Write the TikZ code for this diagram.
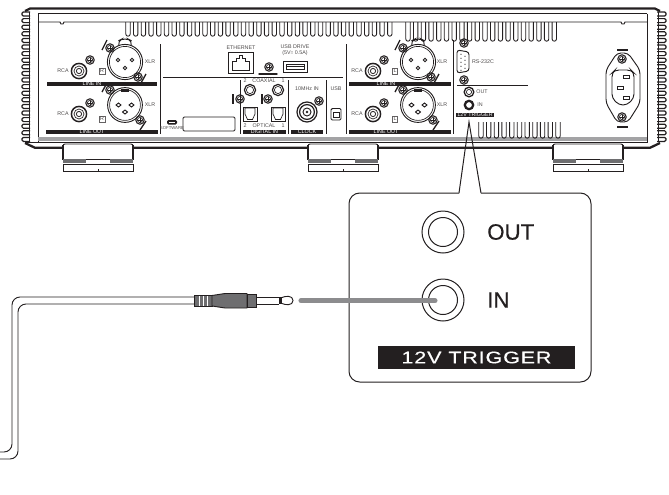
\documentclass[tikz,border=0pt]{standalone}
\usepackage{fontspec}
\setmainfont{Liberation Sans}
\definecolor{plugdark}{RGB}{110,110,112}
\definecolor{leadgray}{RGB}{140,140,142}
\definecolor{inkline}{RGB}{35,31,32}
\tikzset{
  tinytext/.style={font=\fontsize{4}{4.6}\selectfont,text=inkline!80,inner sep=0pt,align=center},
  bartext/.style={font=\fontsize{4}{4.6}\selectfont,text=white,inner sep=0pt},
  panelline/.style={line width=0.7pt,draw=inkline},
  hairline/.style={line width=0.5pt,draw=inkline},
  heavyline/.style={line width=1.7pt,draw=inkline},
  calloutline/.style={line width=0.75pt,draw=inkline},
  biglabel/.style={anchor=west,inner sep=0pt,font=\fontsize{16.7}{18}\selectfont\addfontfeatures{FakeBold=0.5},text=inkline},
}
\newcommand{\panelscrew}[1]{\begin{scope}[shift={(#1)}]
  \draw [line width=0.8pt,draw=inkline] (0,0) circle (4.2);
  \draw [hairline] (0,0) circle (2.6);
  \draw [hairline] (-1.8,0) -- (1.8,0) (0,-1.8) -- (0,1.8);
\end{scope}}
\newcommand{\rcajack}[1]{\begin{scope}[shift={(#1)}]
  \draw [line width=1.1pt,draw=inkline] (0,0) circle (7.6);
  \draw [hairline] (0,0) circle (5);
  \draw [line width=0.6pt,draw=inkline] (0,0) circle (2.6);
\end{scope}}
\newcommand{\coaxjack}[1]{\begin{scope}[shift={(#1)}]
  \draw [line width=0.9pt,draw=inkline] (0,0) circle (5.6);
  \draw [hairline] (0,0) circle (3.6);
\end{scope}}
\newcommand{\xlrin}[1]{\begin{scope}[shift={(#1)}]
  \draw [panelline,rounded corners=3] (-6,-16) -- (-7,-21) -- (-3,-23) -- (3,-23) -- (7,-21) -- (6,-16);
  \draw [panelline,fill=white] (0,0) circle (17.6);
  \draw [hairline] (0,0) circle (15.6);
  \draw [panelline] (-7,-2) circle (1.7) (7,-2) circle (1.7) (0,6) circle (1.7);
\end{scope}}
\newcommand{\xlrout}[1]{\begin{scope}[shift={(#1)}]
  \draw [panelline] (0,0) circle (17.4);
  \draw [hairline] (0,0) circle (15.4);
  \fill [inkline] (-4,-15.6) rectangle (4,-13.4);
  \draw [panelline] (-9,0) -- (-6.5,-2) -- (-4,0) -- (-6.5,2) -- cycle;
  \draw [panelline] (9,0) -- (6.5,-2) -- (4,0) -- (6.5,2) -- cycle;
  \draw [panelline] (-2.5,7) -- (0,5) -- (2.5,7) -- (0,9) -- cycle;
\end{scope}}
\newcommand{\toslink}[1]{\begin{scope}[shift={(#1)}]
  \draw [panelline] (-7,-7) rectangle (7,7);
  \draw [hairline] (-5,-6) -- (-5,0) -- (-2.5,5.5) -- (2.5,5.5) -- (5,0) -- (5,-6) -- cycle;
\end{scope}}
\newcommand{\finslot}[3]{\draw [line width=0.65pt,draw=inkline] (#1-2.2,#2) -- (#1-2.2,#3) arc (180:0:2.2) -- (#1+2.2,#2);}
\begin{document}
\begin{tikzpicture}[x=0.75pt,y=0.75pt,yscale=-1,xscale=1]
\path [use as bounding box] (0,0) rectangle (669,494);

%Feet
\foreach \footx in {63,308,553}{
  \draw [panelline,rounded corners=1.5] (\footx,148) -- (\footx,144) -- (\footx+70,144) -- (\footx+70,148);
  \draw [line width=1pt,draw=inkline] (\footx,144.5) -- (\footx,160) (\footx+70,144.5) -- (\footx+70,160);
  \draw [panelline] (\footx,164) -- (\footx,171) -- (\footx+70,171) -- (\footx+70,164) -- cycle;
  \draw [panelline] (\footx+23,159.5) -- (\footx+47,159.5);
  \fill [plugdark] (\footx,158.5) rectangle (\footx+23,163);
  \fill [plugdark] (\footx+47,158.5) rectangle (\footx+70,163);
  \draw [hairline] (\footx+35,171) -- (\footx+35,169);
}

%Chassis
\draw [heavyline] (25,11) -- (30,8.6) -- (655,8.6) -- (660,11);
\draw [panelline] (38,13.5) -- (647,13.5);
\draw [panelline] (38,22) -- (60,22) -- (61,24) -- (63,24) -- (64,22) -- (621,22) -- (622,24) -- (624,24) -- (625,22) -- (647,22);
\draw [panelline] (38,13.5) -- (38,141.5) (647,13.5) -- (647,141.5);
\draw [line width=2.6pt,draw=leadgray!80] (38,139) -- (647,139);
\draw [panelline] (25,142.5) -- (648,142.5);
\draw [heavyline] (25,143) -- (35,147.8) -- (63,147.8) (133,147.8) -- (308,147.8) (378,147.8) -- (553,147.8) (623,147.8) -- (650,147.8) -- (660,143);

%Side fins
\foreach \finy in {12,18.6,...,138}{
  \draw [line width=0.9pt,draw=inkline,rounded corners=1] (30,\finy) -- (22,\finy) -- (22,\finy+4) -- (30,\finy+4);
  \draw [line width=0.9pt,draw=inkline,rounded corners=1] (657,\finy) -- (666,\finy) -- (666,\finy+4) -- (657,\finy+4);
}
\draw [panelline] (29,12) -- (29,142) (658,12) -- (658,142);

%Slots
\foreach \slotx in {128,135.7,...,390}{ \finslot{\slotx}{22}{34} }
\foreach \slotx in {408,415.7,...,558}{ \finslot{\slotx}{22}{39} }
\foreach \slotx in {481,488.7,...,558}{ \finslot{\slotx}{122}{136} }

%Dividers
\draw [panelline] (160,44) -- (160,134) (346,44) -- (346,134) (453,40) -- (453,134);
\draw [panelline] (163,77) -- (343,77) (457,85) -- (528,85);
\draw [panelline] (240,80) -- (240,134) (288,80) -- (288,134) (326,80) -- (326,134);

%Black label bars
\fill [inkline] (47,82) rectangle (157,86);
\fill [inkline] (46,129.5) rectangle (158,134);
\fill [inkline] (349,82) rectangle (451,86);
\fill [inkline] (349,129.5) rectangle (451,134);
\fill [inkline] (243,129.5) rectangle (286,134);
\fill [inkline] (291,129.5) rectangle (323,134);
\fill [inkline] (456,113) rectangle (494,117);
\node [bartext] (lineinl) at (92,84) {LINE IN};
\node [bartext] (lineoutl) at (92,131.8) {LINE OUT};
\node [bartext] (lineinr) at (386,84) {LINE IN};
\node [bartext] (lineoutr) at (386,131.8) {LINE OUT};
\node [bartext] (digitalin) at (264.5,131.8) {DIGITAL IN};
\node [bartext] (clock) at (307,131.8) {CLOCK};
\node [bartext] (smalltrigger) at (475,115) {12V TRIGGER};

%Left analog block
\xlrin{125,62} \xlrout{125,105} \rcajack{79,71} \rcajack{79,114}
\panelscrew{90,60} \panelscrew{90,103} \panelscrew{110,48} \panelscrew{138,77} \panelscrew{110,90} \panelscrew{140,120}
\draw [line width=1pt,draw=inkline] (102,50) -- (107,40) (141,83) -- (146,74) (102,92) -- (107,83) (140,130) -- (146,121);
\node [tinytext] (rcatopl) at (63,71) {RCA};
\node [tinytext] (rcabotl) at (63,114) {RCA};
\node [tinytext] (xlrtopl) at (150,62) {XLR};
\node [tinytext] (xlrbotl) at (150,105) {XLR};
\node [tinytext,draw=inkline!70,line width=0.3pt,inner sep=0.8pt] (chanrtop) at (102,71) {R};
\node [tinytext,draw=inkline!70,line width=0.3pt,inner sep=0.8pt] (chanrbot) at (102,119) {R};

%Right analog block
\xlrin{418,62} \xlrout{418,105} \rcajack{373,71} \rcajack{373,114}
\panelscrew{384,60} \panelscrew{384,103} \panelscrew{403,48} \panelscrew{431,77} \panelscrew{403,90} \panelscrew{433,120}
\draw [line width=1pt,draw=inkline] (395,50) -- (400,40) (434,83) -- (439,74) (395,92) -- (400,83) (433,130) -- (439,121);
\node [tinytext] (rcatopr) at (357,71) {RCA};
\node [tinytext] (rcabotr) at (357,114) {RCA};
\node [tinytext] (xlrtopr) at (442,62) {XLR};
\node [tinytext] (xlrbotr) at (442,105) {XLR};
\node [tinytext,draw=inkline!70,line width=0.3pt,inner sep=0.8pt] (chanltop) at (395,71) {L};
\node [tinytext,draw=inkline!70,line width=0.3pt,inner sep=0.8pt] (chanlbot) at (395,119) {L};

%Ethernet and USB drive
\node [tinytext] (ethernet) at (241,48) {ETHERNET};
\node [tinytext] (usbdrive) at (295,50.5) {USB DRIVE\\(5V{\fontsize{3.5}{4}\selectfont=} 0.5A)};
\draw [panelline] (228,52) rectangle (253,73);
\draw [hairline] (232,70) -- (232,61) -- (236,61) -- (236,58) -- (239,58) -- (239,55.5) -- (242,55.5) -- (242,58) -- (245,58) -- (245,61) -- (249,61) -- (249,70) -- cycle;
\draw [panelline] (283,61) rectangle (307,72);
\draw [hairline] (286,64) rectangle (304,69);
\draw [hairline] (286,66.5) -- (304,66.5);
\panelscrew{269,67}
\draw [line width=1.1pt,draw=inkline,line cap=round] (259,74) -- (277,74);

%Software port
\fill [inkline,rounded corners=1] (167,120) rectangle (177,124.5);
\draw [line width=0.6pt,draw=white] (169,122) -- (175,122);
\node [tinytext,font=\fontsize{3.2}{3.6}\selectfont] (software) at (172,128.5) {SOFTWARE};
\draw [panelline,rounded corners=1] (183,117) rectangle (235,131);

%Digital in
\node [tinytext] (coaxial) at (264,81) {COAXIAL};
\node [tinytext] (coaxa) at (245,81) {2};
\node [tinytext] (coaxb) at (283,81) {1};
\node [tinytext] (optical) at (264,125.8) {OPTICAL};
\node [tinytext] (opta) at (245,125.8) {2};
\node [tinytext] (optb) at (283,125.8) {1};
\coaxjack{250,90} \coaxjack{278,90}
\panelscrew{240,99} \panelscrew{268,99}
\draw [line width=1pt,draw=inkline] (233,94) -- (233,104) (262,94) -- (262,104);
\toslink{250,114} \toslink{278,114}

%Clock and USB
\node [tinytext] (tenmhz) at (307,89) {10MHz IN};
\node [tinytext] (usblabel) at (336,89) {USB};
\draw [line width=0.9pt,draw=inkline] (307,112) circle (10);
\draw [line width=0.9pt,draw=inkline] (307,112) circle (7.4);
\draw [panelline] (307,112) circle (4);
\fill [inkline] (307,112) circle (1.4);
\panelscrew{319,101}
\draw [panelline,rounded corners=1] (331,108.5) -- (341,108.5) -- (341,120) -- (331,120) -- (331,111) -- cycle;
\draw [hairline] (333,112) rectangle (339,117);

%RS-232C and trigger
\panelscrew{464,43} \panelscrew{464,80}
\draw [panelline,rounded corners=2] (457,50) -- (469,52) -- (469,71) -- (457,73) -- cycle;
\foreach \piny in {55,59,...,71}{ \fill [inkline] (461,\piny-.8) circle (0.7); }
\foreach \piny in {57,61,...,69}{ \fill [inkline] (465,\piny-.8) circle (0.7); }
\node [tinytext] (rstwo) at (483,62) {RS-232C};
\draw [line width=1pt,draw=inkline] (469,92) circle (4.8);
\draw [hairline] (469,92) circle (2.6);
\draw [line width=1.7pt,draw=inkline] (469,105) circle (4.2);
\node [tinytext] (smallout) at (482,92) {OUT};
\node [tinytext] (smallin) at (480,105) {IN};

%Power inlet
\draw [panelline,rounded corners=3] (617,53) -- (628,53) -- (640,70) -- (640,103) -- (628,122) -- (617,122) -- (606,103) -- (606,70) -- cycle;
\draw [panelline,rounded corners=3] (615,70) -- (631,70) -- (634,73) -- (634,98) -- (627,105) -- (619,105) -- (612,98) -- (612,73) -- cycle;
\draw [panelline] (623,75.5) rectangle (629,78.5) (617,86.5) rectangle (623,89.5) (623,96.5) rectangle (629,99.5);
\panelscrew{622,59} \panelscrew{622,117}
\draw [line width=1pt,draw=inkline] (617,50) -- (628,50) (617,127) -- (628,127);

%Callout
\draw [calloutline,fill=white,rounded corners=8] (459,193) -- (349,193) -- (349,382) -- (591,382) -- (591,193) -- (481,193);
\draw [calloutline] (459,193) -- (469,122) -- (481,193);
\draw [calloutline] (443,232) circle (21) (443,232) circle (14.5);
\draw [calloutline] (443,300) circle (21) (443,300) circle (14.5);
\node [biglabel] (outlabel) at (487,232) {OUT};
\node [biglabel] (inlabel) at (487,300) {IN};
\fill [inkline] (378,346) rectangle (575,369);
\node [inner sep=0pt,font=\fontsize{12.6}{14}\selectfont\addfontfeatures{LetterSpace=4,FakeBold=0.4},text=white,xscale=1.28,yscale=-1,transform shape] (triggerlabel) at (476.5,357.5) {12V TRIGGER};

%Lead
\draw [line width=3.8pt,draw=leadgray,line cap=round] (301,300.7) -- (435,300.7);

%Cable
\draw [panelline,rounded corners=6] (194,297) -- (12,297) -- (12,452) -- (0,452);
\draw [panelline,rounded corners=6] (194,304) -- (18,304) -- (18,459) -- (0,459);

%Plug
\draw [panelline,fill=plugdark] (194,295.5) rectangle (212,306);
\draw [hairline,draw=white] (199,296) -- (199,306) (203,296) -- (203,306) (207.5,296) -- (207.5,306);
\draw [panelline,fill=plugdark] (212,295.5) -- (225,293.5) -- (247,293.5) -- (247,308) -- (225,308) -- (212,306) -- cycle;
\draw [panelline,fill=plugdark] (247,294.5) rectangle (256,307);
\draw [panelline] (256,297) -- (279,297) (256,304) -- (279,304);
\fill [inkline] (279,297) rectangle (282,304);
\draw [panelline] (282,297.5) .. controls (285,296) and (293,295) .. (293,300.5) .. controls (293,306) and (285,305) .. (282,303.5);
\end{tikzpicture}
\end{document}
